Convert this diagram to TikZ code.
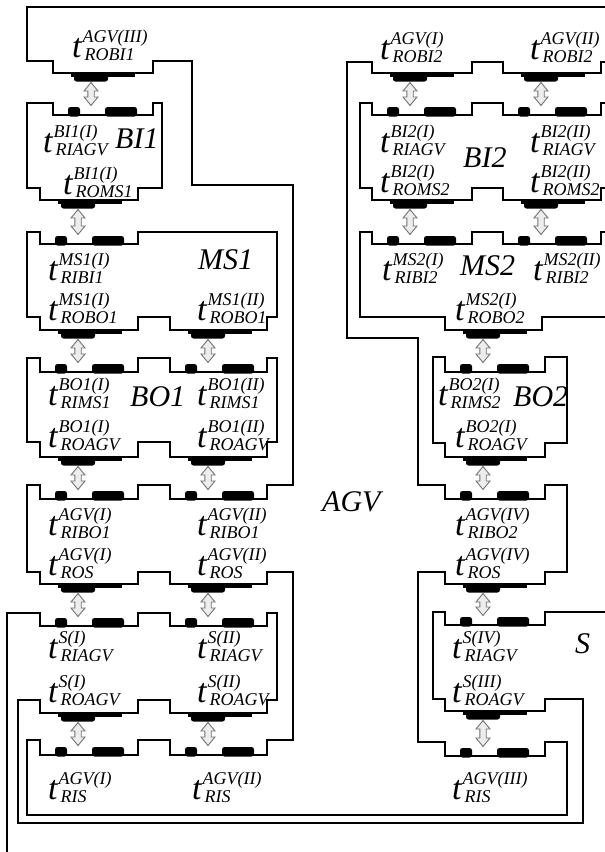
\documentclass[tikz,border=0pt]{standalone}
\usepackage{fontspec}
\setmainfont{Liberation Serif}
\usetikzlibrary{calc}
\tikzset{
 wall/.style={line width=1.7pt, line join=miter},
 dblarr/.style={draw=black!55, fill=black!7, line width=0.9pt, line join=miter},
 outp/.pic={\fill (18,0) rectangle (82,3.5); \fill[rounded corners=2.5pt] (21,-0.5) rectangle (55,8.5);},
 inp/.pic={\fill[rounded corners=2.5pt] (15,1.5) rectangle (27,-8); \fill[rounded corners=2.5pt] (52,1.5) rectangle (84,-8);},
 lab/.style={anchor=base west, inner sep=0pt, font=\itshape},
 mod/.style={anchor=base west, inner sep=0pt, font=\itshape\fontsize{30}{30}\selectfont},
}
\newcommand{\tl}[2]{{\fontsize{34}{34}\selectfont t}\kern1pt\rlap{\raisebox{15pt}{\fontsize{18}{18}\selectfont #1}}\kern2pt\raisebox{-3pt}{\fontsize{18}{18}\selectfont #2}}
\newcommand{\outport}[3]{\coordinate (#1) at (#2+38,#3); \pic at (#2,#3) {outp};}
\newcommand{\inport}[3]{\coordinate (#1) at (#2+38,#3); \pic at (#2,#3) {inp};}
\newcommand{\dblarrow}[2]{\draw[dblarr] let \p1=(#1), \p2=(#2) in
 (\x1,\y1-9.5pt) -- (\x1+7pt,\y1-18pt) -- (\x1+3.2pt,\y1-18pt) -- (\x1+3.2pt,\y2+18pt) -- (\x1+7pt,\y2+18pt)
 -- (\x1,\y2+9.5pt) -- (\x1-7pt,\y2+18pt) -- (\x1-3.2pt,\y2+18pt) -- (\x1-3.2pt,\y1-18pt) -- (\x1-7pt,\y1-18pt) -- cycle;}
\begin{document}
\begin{tikzpicture}[x=1pt,y=-1pt]
\useasboundingbox (0,0) rectangle (605,852);
\clip (0,0) rectangle (605,852);
\fill[white] (0,0) rectangle (605,852);
% AGV
\draw[wall] (615,7) -- (27,7) -- (27,61) -- (53,61) -- (53,73) -- (153,73) -- (153,61) -- (192,61) -- (192,185) -- (293,185) -- (293,485) -- (267,485) -- (267,499) -- (170,499) -- (170,485) -- (138,485) -- (138,499) -- (40,499) -- (40,485) -- (27,485) -- (27,572) -- (40,572) -- (40,584) -- (138,584) -- (138,572) -- (170,572) -- (170,584) -- (267,584) -- (267,572) -- (293,572) -- (293,740) -- (267,740) -- (267,755) -- (170,755) -- (170,740) -- (138,740) -- (138,755) -- (40,755) -- (40,740) -- (27,740) -- (27,815) -- (567,815) -- (567,742) -- (545,742) -- (545,756) -- (445,756) -- (445,742) -- (418,742) -- (418,572) -- (445,572) -- (445,584) -- (545,584) -- (545,572) -- (567,572) -- (567,485) -- (545,485) -- (545,499) -- (445,499) -- (445,485) -- (418,485) -- (418,338) -- (347,338) -- (347,62) -- (372,62) -- (372,73) -- (472,73) -- (472,62) -- (503,62) -- (503,73) -- (601,73) -- (601,62) -- (615,62);
% BI1
\draw[wall] (27,103) -- (53,103) -- (53,115) -- (153,115) -- (153,103) -- (162,103) -- (162,188) -- (138,188) -- (138,200) -- (40,200) -- (40,188) -- (27,188) -- cycle;
% MS1
\draw[wall] (27,232) -- (40,232) -- (40,244) -- (138,244) -- (138,232) -- (277,232) -- (277,317) -- (267,317) -- (267,330) -- (170,330) -- (170,317) -- (138,317) -- (138,330) -- (40,330) -- (40,317) -- (27,317) -- cycle;
% BO1
\draw[wall] (27,358) -- (40,358) -- (40,372) -- (138,372) -- (138,358) -- (170,358) -- (170,372) -- (267,372) -- (267,358) -- (277,358) -- (277,442) -- (267,442) -- (267,457) -- (170,457) -- (170,442) -- (138,442) -- (138,457) -- (40,457) -- (40,442) -- (27,442) -- cycle;
% S
\draw[wall] (7,870) -- (7,613) -- (40,613) -- (40,626) -- (138,626) -- (138,613) -- (170,613) -- (170,626) -- (267,626) -- (267,613) -- (277,613) -- (277,700) -- (267,700) -- (267,713) -- (170,713) -- (170,700) -- (138,700) -- (138,713) -- (40,713) -- (40,700) -- (18,700) -- (18,823) -- (583,823) -- (583,699) -- (545,699) -- (545,711) -- (445,711) -- (445,699) -- (433,699) -- (433,612) -- (445,612) -- (445,625) -- (545,625) -- (545,612) -- (615,612);
% BI2
\draw[wall] (615,103) -- (601,103) -- (601,115) -- (503,115) -- (503,103) -- (472,103) -- (472,115) -- (372,115) -- (372,103) -- (360,103) -- (360,188) -- (372,188) -- (372,200) -- (472,200) -- (472,188) -- (503,188) -- (503,200) -- (601,200) -- (601,188) -- (615,188);
% MS2
\draw[wall] (615,232) -- (601,232) -- (601,244) -- (503,244) -- (503,232) -- (472,232) -- (472,244) -- (372,244) -- (372,232) -- (360,232) -- (360,317) -- (445,317) -- (445,330) -- (542,330) -- (542,317) -- (615,317);
% BO2
\draw[wall] (433,357) -- (445,357) -- (445,372) -- (545,372) -- (545,357) -- (567,357) -- (567,443) -- (545,443) -- (545,457) -- (445,457) -- (445,443) -- (433,443) -- cycle;
% ports
\outport{o1}{53}{73} \inport{i1}{53}{115}
\outport{o2}{40}{200} \inport{i2}{40}{244}
\outport{o3}{40}{330} \inport{i3}{40}{372}
\outport{o4}{170}{330} \inport{i4}{170}{372}
\outport{o5}{40}{457} \inport{i5}{40}{499}
\outport{o6}{170}{457} \inport{i6}{170}{499}
\outport{o7}{40}{584} \inport{i7}{40}{626}
\outport{o8}{170}{584} \inport{i8}{170}{626}
\outport{o9}{40}{713} \inport{i9}{40}{755}
\outport{o10}{170}{713} \inport{i10}{170}{755}
\outport{o11}{372}{73} \inport{i11}{372}{115}
\outport{o12}{503}{73} \inport{i12}{503}{115}
\outport{o13}{372}{200} \inport{i13}{372}{244}
\outport{o14}{503}{200} \inport{i14}{503}{244}
\outport{o15}{445}{330} \inport{i15}{445}{372}
\outport{o16}{445}{457} \inport{i16}{445}{499}
\outport{o17}{445}{584} \inport{i17}{445}{625}
\outport{o18}{445}{711} \inport{i18}{445}{756}
\foreach \k in {1,...,18} {\dblarrow{o\k}{i\k}}
% labels
\node[lab] (l1) at (72,57) {\tl{AGV(III)}{ROBI1}};
\node[lab] (l2) at (43,152) {\tl{BI1(I)}{RIAGV}};
\node[lab] (l3) at (63,194) {\tl{BI1(I)}{ROMS1}};
\node[lab] (l4) at (48,280) {\tl{MS1(I)}{RIBI1}};
\node[lab] (l5) at (48,320) {\tl{MS1(I)}{ROBO1}};
\node[lab] (l6) at (197,320) {\tl{MS1(II)}{ROBO1}};
\node[lab] (l7) at (48,405) {\tl{BO1(I)}{RIMS1}};
\node[lab] (l8) at (197,405) {\tl{BO1(II)}{RIMS1}};
\node[lab] (l9) at (48,447) {\tl{BO1(I)}{ROAGV}};
\node[lab] (l10) at (197,447) {\tl{BO1(II)}{ROAGV}};
\node[lab] (l11) at (48,535) {\tl{AGV(I)}{RIBO1}};
\node[lab] (l12) at (197,535) {\tl{AGV(II)}{RIBO1}};
\node[lab] (l13) at (48,575) {\tl{AGV(I)}{ROS}};
\node[lab] (l14) at (197,575) {\tl{AGV(II)}{ROS}};
\node[lab] (l15) at (48,658) {\tl{S(I)}{RIAGV}};
\node[lab] (l16) at (197,658) {\tl{S(II)}{RIAGV}};
\node[lab] (l17) at (48,702) {\tl{S(I)}{ROAGV}};
\node[lab] (l18) at (197,702) {\tl{S(II)}{ROAGV}};
\node[lab] (l19) at (48,799) {\tl{AGV(I)}{RIS}};
\node[lab] (l20) at (192,799) {\tl{AGV(II)}{RIS}};
\node[lab] (l21) at (380,59) {\tl{AGV(I)}{ROBI2}};
\node[lab] (l22) at (530,59) {\tl{AGV(II)}{ROBI2}};
\node[lab] (l23) at (380,152) {\tl{BI2(I)}{RIAGV}};
\node[lab] (l24) at (530,152) {\tl{BI2(II)}{RIAGV}};
\node[lab] (l25) at (380,192) {\tl{BI2(I)}{ROMS2}};
\node[lab] (l26) at (530,192) {\tl{BI2(II)}{ROMS2}};
\node[lab] (l27) at (382,280) {\tl{MS2(I)}{RIBI2}};
\node[lab] (l28) at (533,280) {\tl{MS2(II)}{RIBI2}};
\node[lab] (l29) at (455,320) {\tl{MS2(I)}{ROBO2}};
\node[lab] (l30) at (438,405) {\tl{BO2(I)}{RIMS2}};
\node[lab] (l31) at (455,447) {\tl{BO2(I)}{ROAGV}};
\node[lab] (l32) at (455,535) {\tl{AGV(IV)}{RIBO2}};
\node[lab] (l33) at (455,575) {\tl{AGV(IV)}{ROS}};
\node[lab] (l34) at (452,658) {\tl{S(IV)}{RIAGV}};
\node[lab] (l35) at (452,702) {\tl{S(III)}{ROAGV}};
\node[lab] (l36) at (452,799) {\tl{AGV(III)}{RIS}};
% module names
\node[mod] (mBI1) at (115,148) {BI1};
\node[mod] (mMS1) at (198,269) {MS1};
\node[mod] (mBO1) at (130,406) {BO1};
\node[mod] (mBI2) at (463,167) {BI2};
\node[mod] (mMS2) at (460,275) {MS2};
\node[mod] (mBO2) at (513,406) {BO2};
\node[mod] (mAGV) at (322,511) {AGV};
\node[mod] (mS) at (575,653) {S};
\end{tikzpicture}
\end{document}
